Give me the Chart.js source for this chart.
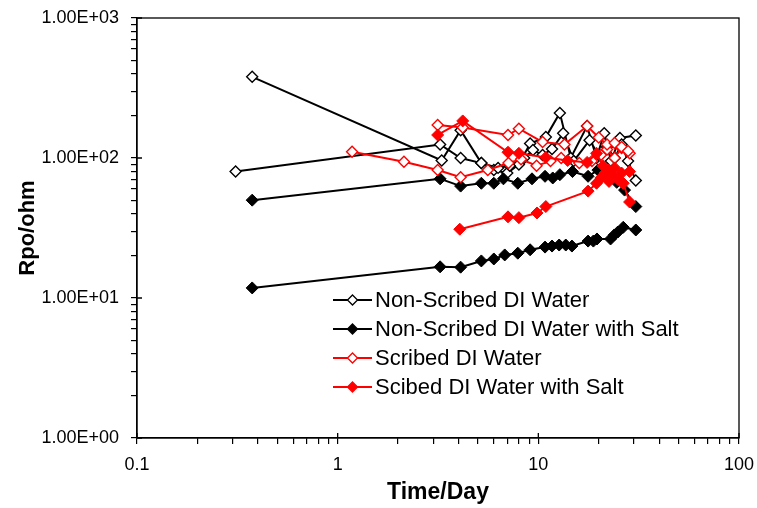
<!DOCTYPE html>
<html>
<head>
<meta charset="utf-8">
<script src="https://cdn.jsdelivr.net/npm/chart.js@4/dist/chart.umd.min.js"></script>
<style>
html,body{margin:0;padding:0;background:#fff;}
#wrap{width:757px;height:508px;position:relative;}
</style>
</head>
<body>
<div id="wrap"><canvas id="c" width="757" height="508"></canvas></div>
<script>
// ---- Data (null separates the two measurement runs inside one series) ----
const seriesNames = ["Non-Scribed DI Water", "Non-Scribed DI Water with Salt", "Scribed DI Water", "Scibed DI Water with Salt"];

const nsDays = [0.31, 3.24, 4.1, 5.2, 6.0, 7.0, 8.0, 9.1, 10.9, 12.8, 14.5, 17.5, 19.5, 21.3, 23, 25.5, 30.6,
                null,
                0.375, 3.3, 4.1, 5.2, 6.3, 7.2, 8.5, 9.4, 10.5, 11.7, 13.3, 15, 18.0, 20, 22, 24, 26, 28, 30.6];
const nsRpo  = [80, 125, 100, 92, 82, 78, 90, 127, 141, 210, 100, 169, 100, 150, 95, 139, 145,
                null,
                380, 96, 158, 92, 85, 88, 100, 114, 105, 116, 150, 95, 134, 105, 120, 100, 125, 95, 69];

const nsSaltDays = [0.375, 3.24, 4.1, 5.2, 6.0, 6.7, 7.9, 9.3, 10.8, 11.8, 12.8, 14.8, 17.7, 19.8, 22, 24.6, 26.9, 30.6,
                    null,
                    0.375, 3.24, 4.1, 5.2, 6.0, 6.8, 7.9, 9.1, 10.8, 11.7, 12.7, 13.7, 14.7, 17.7, 18.8, 19.6, 22.9, 23.9, 24.9, 26.5, 30.6];
const nsSaltRpo  = [50, 71, 63, 66, 66, 71, 66, 71, 74, 72, 76, 80, 74, 82, 78, 67, 59, 45,
                    null,
                    11.8, 16.7, 16.6, 18.4, 19.0, 20.3, 20.9, 22.1, 23.1, 23.5, 23.9, 23.9, 23.5, 25.5, 25.5, 26.4, 26.4, 28.2, 29.6, 32, 30.6];

const sDays = [1.18, 2.14, 3.15, 4.1, 5.6, 7.1, 8.2, 9.8, 11.5, 13, 16, 18.5, 20.5, 22, 24, 26, 28.5,
               null,
               3.15, 4.2, 7.06, 8.0, 10.5, 13.5, 17.5, 20, 22, 24, 26, 28];
const sRpo  = [111, 94, 82, 73, 82, 92, 98, 88, 95, 100, 92, 95, 105, 115, 100, 118, 108,
               null,
               172, 165, 146, 162, 130, 125, 169, 140, 125, 128, 120, 112];

const sSaltDays = [3.15, 4.2, 7.06, 8.0, 10.9, 14, 17.5, 19.5, 21, 22.5, 24, 26, 28.5,
                   null,
                   4.06, 7.06, 8.0, 9.85, 10.9, 17.7, 19.5, 20.5, 21.5, 22.5, 23.5, 25, 26.5, 28.5];
const sSaltRpo  = [146, 184, 110, 108, 101, 96, 93, 108, 88, 82, 85, 78, 80,
                   null,
                   31, 38, 37.5, 40.5, 45, 58, 66, 72, 78, 68, 75, 70, 66, 48.5];

const xTickLabels = ["0.1", "1", "10", "100"];
const yTickLabels = ["1.00E+00", "1.00E+01", "1.00E+02", "1.00E+03"];

function pts(xs, ys) {
  return xs.map((x, i) => (x === null ? {x: NaN, y: null} : {x: x, y: ys[i]}));
}

const FONT = "'Liberation Sans', Arial, sans-serif";

function ds(label, xs, ys, color, filled, order) {
  return {
    label: label,
    data: pts(xs, ys),
    showLine: true,
    spanGaps: false,
    borderColor: color,
    borderWidth: 2,
    pointStyle: 'rectRot',
    pointRadius: filled ? 6 : 5.5,
    pointHoverRadius: filled ? 6 : 5.5,
    pointBackgroundColor: filled ? color : '#ffffff',
    pointBorderColor: color,
    pointBorderWidth: filled ? 1 : 1.4,
    order: order,
    filledMarker: filled
  };
}

function logTicks(minExp, maxExp) {
  const t = [];
  for (let e = minExp; e < maxExp; e++) {
    for (let m = 1; m <= 9; m++) t.push({value: m * Math.pow(10, e), major: m === 1});
  }
  t.push({value: Math.pow(10, maxExp), major: true});
  return t;
}
function isPow10(v) { const l = Math.log10(v); return Math.abs(l - Math.round(l)) < 1e-9; }

const frame = {
  id: 'frame',
  afterDraw(chart) {
    const {ctx, chartArea: a} = chart;
    ctx.save();
    ctx.strokeStyle = '#000';
    ctx.lineWidth = 1.3;
    ctx.strokeRect(a.left, a.top, a.right - a.left, a.bottom - a.top);
    const xs = chart.scales.x, ys = chart.scales.y;
    ctx.beginPath();
    [0.1, 1, 10, 100].forEach(v => { const p = xs.getPixelForValue(v); ctx.moveTo(p, a.bottom); ctx.lineTo(p, a.bottom - 5); });
    [1, 10, 100, 1000].forEach(v => { const p = ys.getPixelForValue(v); ctx.moveTo(a.left, p); ctx.lineTo(a.left + 5, p); });
    ctx.stroke();

    // legend
    const lx0 = 333, lx1 = 372, tx = 375, rowY = [300, 329, 358, 387];
    ctx.font = "22px " + FONT;
    ctx.textBaseline = 'middle';
    ctx.textAlign = 'left';
    chart.data.datasets.forEach((d, i) => {
      const y = rowY[i];
      ctx.strokeStyle = d.borderColor;
      ctx.lineWidth = 2;
      ctx.beginPath(); ctx.moveTo(lx0, y); ctx.lineTo(lx1, y); ctx.stroke();
      const cx = (lx0 + lx1) / 2, r = 5;
      ctx.beginPath();
      ctx.moveTo(cx, y - r); ctx.lineTo(cx + r, y); ctx.lineTo(cx, y + r); ctx.lineTo(cx - r, y); ctx.closePath();
      ctx.fillStyle = d.filledMarker ? d.borderColor : '#fff';
      ctx.fill();
      ctx.lineWidth = 1.3;
      ctx.stroke();
      ctx.fillStyle = '#000';
      ctx.fillText(d.label, tx, y + 1);
    });
    ctx.restore();
  }
};

new Chart(document.getElementById('c'), {
  type: 'scatter',
  data: {
    datasets: [
      ds(seriesNames[0], nsDays, nsRpo, '#000000', false, 3),
      ds(seriesNames[1], nsSaltDays, nsSaltRpo, '#000000', true, 2),
      ds(seriesNames[2], sDays, sRpo, '#ff0000', false, 1),
      ds(seriesNames[3], sSaltDays, sSaltRpo, '#ff0000', true, 0)
    ]
  },
  options: {
    responsive: false,
    animation: false,
    devicePixelRatio: 1,
    layout: {padding: {left: 0, right: 18, top: 18, bottom: 0}},
    plugins: {legend: {display: false}, tooltip: {enabled: false}},
    scales: {
      x: {
        type: 'logarithmic', min: 0.1, max: 100,
        afterBuildTicks: s => { s.ticks = logTicks(-1, 2); },
        afterFit: s => { s.height = 70; s.paddingLeft = 0; s.paddingRight = 0; },
        grid: {display: true, drawOnChartArea: false, drawTicks: true, tickLength: 6, color: '#000', lineWidth: 1.2},
        border: {display: true, color: '#000', width: 1.3},
        ticks: {
          autoSkip: false, maxRotation: 0, padding: 10, color: '#000',
          font: {family: FONT, size: 18},
          callback: v => { if (!isPow10(v)) return ''; const i = Math.round(Math.log10(v)) + 1; return xTickLabels[i]; }
        },
        title: {display: true, text: 'Time/Day', color: '#000', font: {family: FONT, size: 23, weight: 'bold'}, padding: {top: 0, bottom: 2}}
      },
      y: {
        type: 'logarithmic', min: 1, max: 1000,
        afterBuildTicks: s => { s.ticks = logTicks(0, 3); },
        afterFit: s => { s.width = 137; s.paddingTop = 0; s.paddingBottom = 0; },
        grid: {display: true, drawOnChartArea: false, drawTicks: true, tickLength: 6, color: '#000', lineWidth: 1.2},
        border: {display: true, color: '#000', width: 1.3},
        ticks: {
          autoSkip: false, padding: 12, color: '#000',
          font: {family: FONT, size: 18},
          callback: v => { if (!isPow10(v)) return ''; return yTickLabels[Math.round(Math.log10(v))]; }
        },
        title: {display: true, text: 'Rpo/ohm', color: '#000', font: {family: FONT, size: 22, weight: 'bold'}, padding: {top: 15, bottom: 0}}
      }
    }
  },
  plugins: [frame]
});
</script>
</body>
</html>
